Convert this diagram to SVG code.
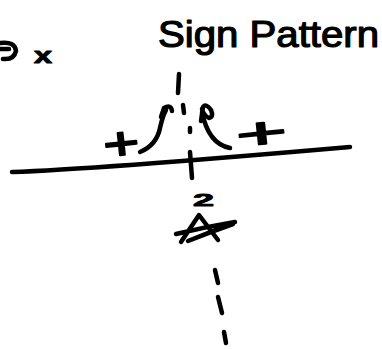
<svg xmlns="http://www.w3.org/2000/svg" width="382" height="349" viewBox="0 0 382 349">
<style>
.ink{fill:none;stroke:#000;stroke-width:4.5;stroke-linecap:round;stroke-linejoin:round}
.hw{font-family:"Liberation Sans",Arial,sans-serif;fill:#000;stroke:#000;stroke-linejoin:round}
</style>
<rect width="382" height="349" fill="#fff"/>
<g id="corner">
<path class="ink" d="M0 43 Q15 41 16 51 Q14 60 3 59 M0 49 L9 49"/>
<text class="hw" x="34" y="63" font-size="22" stroke-width="1" textLength="18" lengthAdjust="spacingAndGlyphs" font-weight="bold">x</text>
</g>
<g id="title">
<text class="hw" x="158" y="47" font-size="36" stroke-width="1.2" textLength="221" lengthAdjust="spacingAndGlyphs">Sign Pattern</text>
</g>
<g id="axis">
<path class="ink" d="M12 172 C80 170 200 160 350 147"/>
<path class="ink" d="M190 152 L192 178"/>
</g>
<g id="vertical-dashes">
<path class="ink" d="M179 74 L178 93 M183 105 L184 113 M190 128 L190 132"/>
<path class="ink" d="M215 270 L218 283 M218 297 L222 313 M224 332 L226 343"/>
</g>
<g id="arrows">
<path class="ink" d="M140 152 C152 147 158 138 160 128 C162 119 163 115 166 110"/>
<path class="ink" d="M161 117 L164 108 Q171 104 172 111"/>
<path class="ink" d="M230 148 C214 145 206 132 202 112"/>
<path class="ink" d="M201 121 L203 107 Q206 103 211 110 Q214 117 209 118 Q204 116 202 109"/>
</g>
<g id="signs">
<text class="hw" x="0" y="0" font-size="44" stroke-width="1.8" text-anchor="middle" transform="translate(123,159) rotate(-6) scale(1.4,1.05)">+</text>
<text class="hw" x="0" y="0" font-size="44" stroke-width="1.6" text-anchor="middle" transform="translate(263,148) rotate(-6) scale(2,1)">+</text>
<text class="hw" x="193" y="206" font-size="16" stroke-width="0.8" font-weight="bold" textLength="21" lengthAdjust="spacingAndGlyphs">2</text>
</g>
<g id="crossed-point">
<path class="ink" d="M181 242 L199 215 L218 240 M176 234 Q205 227 235 222 M188 241 Q210 232 233 224"/>
</g>
</svg>
